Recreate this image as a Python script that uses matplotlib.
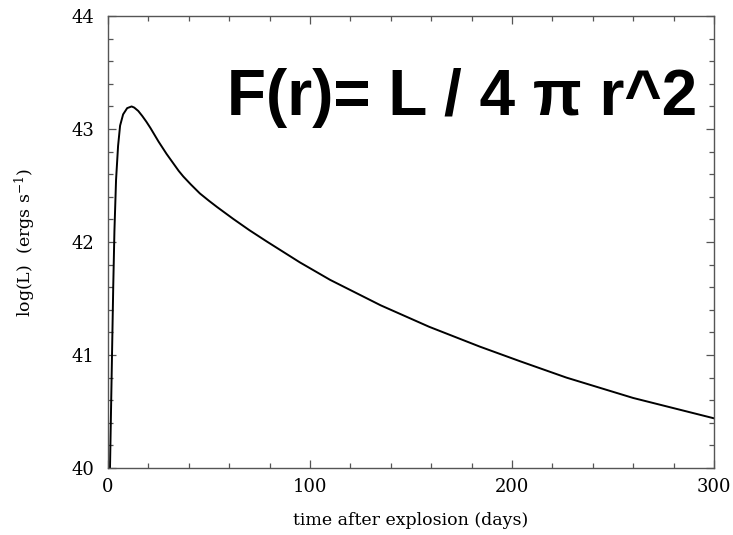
import matplotlib
matplotlib.use("Agg")
import matplotlib.pyplot as plt
from matplotlib.ticker import MultipleLocator

# light curve
days = [1.0, 1.6, 2.1, 2.6, 3.2, 4.0, 5.0, 6.0, 7.5, 9.5, 11.7, 13.0, 15.0,
        17.0, 19.0, 21.0, 23.0, 25.0, 27.0, 29.0, 31.0, 33.0, 35.0, 37.3,
        41.0, 45.5, 50.0, 54.0, 62.0, 70.0, 78.6, 95.0, 110.0, 135.0, 159.0,
        184.0, 204.0, 227.0, 260.0, 300.0]
log_lum = [40.0, 40.6, 41.1, 41.6, 42.1, 42.55, 42.85, 43.03, 43.13, 43.185,
           43.20, 43.19, 43.16, 43.115, 43.065, 43.01, 42.95, 42.89, 42.835,
           42.78, 42.73, 42.68, 42.63, 42.58, 42.51, 42.43, 42.365, 42.31,
           42.205, 42.105, 42.005, 41.82, 41.665, 41.44, 41.25, 41.075,
           40.945, 40.80, 40.62, 40.44]

xticks = [0, 100, 200, 300]
yticks = [40, 41, 42, 43, 44]

plt.rcParams['font.family'] = 'DejaVu Serif'
plt.rcParams['mathtext.fontset'] = 'dejavuserif'

fig = plt.figure(figsize=(7.33, 5.35), dpi=100)
ax = fig.add_axes([0.1473, 0.1252, 0.8267, 0.8448])

ax.plot(days, log_lum, color='black', lw=1.4)

ax.set_xlim(0, 300)
ax.set_ylim(40, 44)
ax.set_xticks(xticks)
ax.set_yticks(yticks)
ax.xaxis.set_minor_locator(MultipleLocator(20))
ax.yaxis.set_minor_locator(MultipleLocator(0.2))

for s in ax.spines.values():
    s.set_color('#555555')
    s.set_linewidth(1.0)

ax.tick_params(which='both', direction='in', top=True, right=True,
               color='#555555', width=0.9, labelsize=13)
ax.tick_params(which='major', length=5.5)
ax.tick_params(which='minor', length=3.5)
ax.tick_params(axis='x', which='major', pad=7)
ax.tick_params(axis='y', which='major', pad=10)

ax.set_xlabel('time after explosion (days)', fontsize=12.5, labelpad=12)
ax.set_ylabel(r'log(L)  (ergs s$^{-1}$)', fontsize=12.5, labelpad=24)

# big formula annotation
fig.text(697 / 733, 1 - 115 / 535, 'F(r)= L / 4 \u03c0 r^2',
         family='Liberation Sans', weight='bold', fontsize=46,
         ha='right', va='baseline')

fig.savefig('out.png', dpi=100)
